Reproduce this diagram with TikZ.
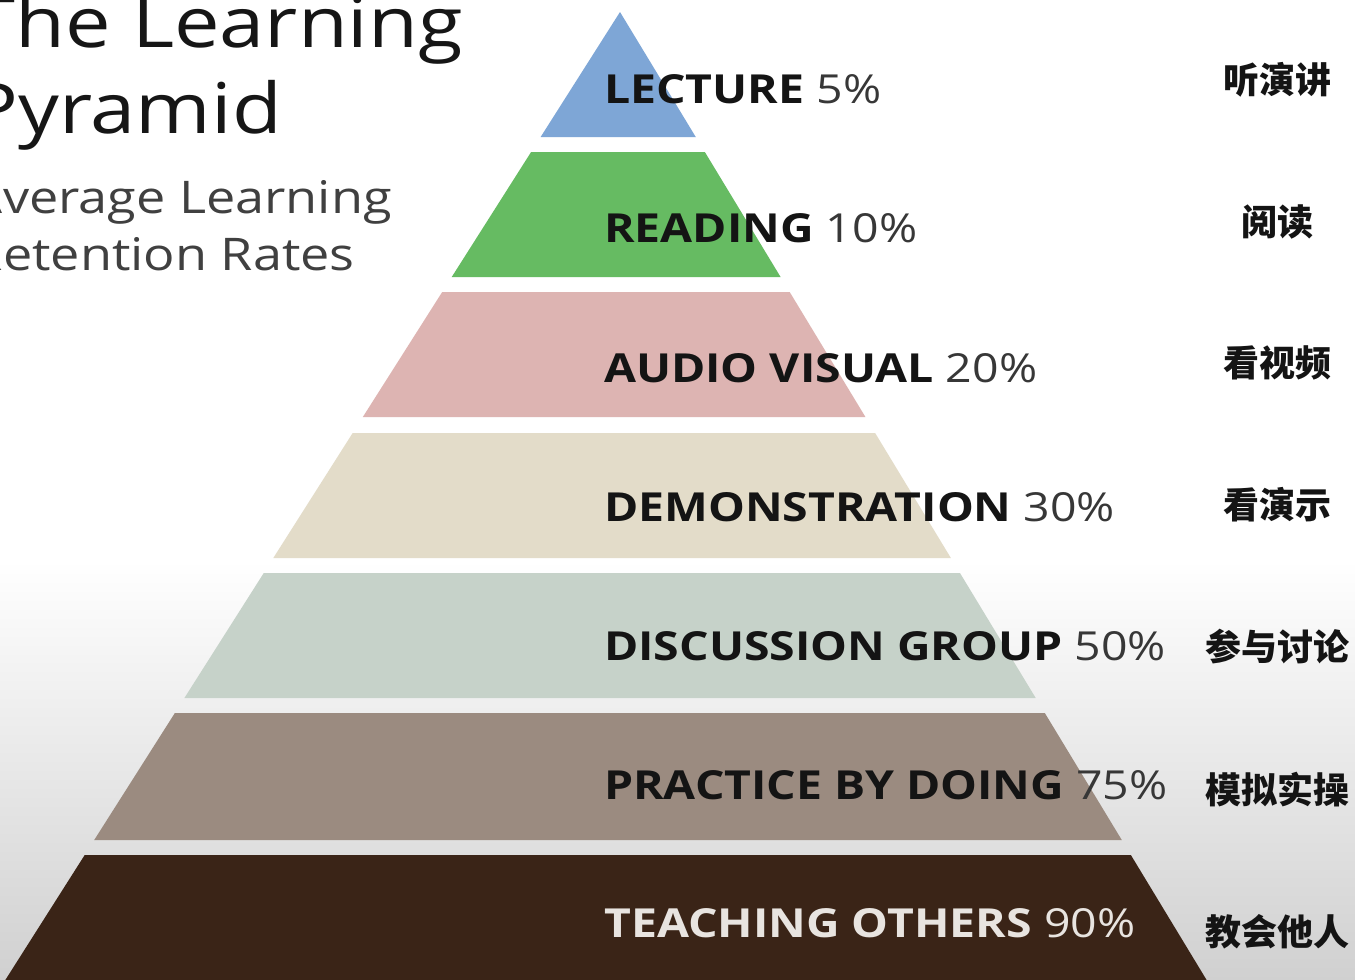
\documentclass[tikz,border=0pt]{standalone}
\usepackage{fontspec}
\setmainfont{Open Sans}[FakeStretch=1.16]
\newfontfamily\cjk{Noto Sans CJK SC}
\definecolor{bgbot}{RGB}{208,208,208}
\definecolor{c1}{RGB}{126,166,214}
\definecolor{c2}{RGB}{102,187,98}
\definecolor{c3}{RGB}{221,180,178}
\definecolor{c4}{RGB}{227,220,201}
\definecolor{c5}{RGB}{198,210,201}
\definecolor{c6}{RGB}{155,139,128}
\definecolor{c7}{RGB}{58,36,23}
\definecolor{labcol}{RGB}{20,20,20}
\definecolor{pctcol}{RGB}{55,55,55}
\definecolor{lightlab}{RGB}{232,228,224}
\definecolor{titlecol}{RGB}{22,22,22}
\definecolor{subcol}{RGB}{64,64,64}
\tikzset{
  lab/.style={anchor=base west, inner sep=0pt, text=labcol, font=\fontsize{40}{40}\selectfont},
  cn/.style={inner sep=0pt, text=labcol, font=\cjk\bfseries\fontsize{36}{36}\selectfont},
  ttl/.style={anchor=base east, inner sep=0pt, text=titlecol, font=\fontsize{70}{70}\selectfont},
  sub/.style={anchor=base east, inner sep=0pt, text=subcol, font=\fontsize{45}{45}\selectfont}
}
\begin{document}
\begin{tikzpicture}[x=1pt,y=-1pt]
\useasboundingbox (0,0) rectangle (1355,980);
\clip (0,0) rectangle (1355,980);
\fill[white] (0,0) rectangle (1355,980);
\shade[top color=white, bottom color=bgbot] (0,560) rectangle (1355,981);
\foreach \t/\b/\c in {12/137/c1, 152/277/c2, 292/417/c3, 433/558/c4, 573/698/c5, 713/840/c6, 855/990/c7}{
  \fill[\c] ({620-0.635*(\t-12)},\t) -- ({620+0.606*(\t-12)},\t) -- ({620+0.606*(\b-12)},\b) -- ({620-0.635*(\b-12)},\b) -- cycle;
}
\node[ttl] (t1) at (463,47) {The Learning};
\node[ttl] (t2) at (282,133) {Pyramid};
\node[sub] (s1) at (392,213) {Average Learning};
\node[sub] (s2) at (355,270) {Retention Rates};
\node[lab] (l1) at (604,103) {\textbf{LECTURE} {\color{pctcol}5\%}};
\node[lab] (l2) at (604,242) {\textbf{READING} {\color{pctcol}10\%}};
\node[lab] (l3) at (604,382) {\textbf{AUDIO VISUAL} {\color{pctcol}20\%}};
\node[lab] (l4) at (604,521) {\textbf{DEMONSTRATION} {\color{pctcol}30\%}};
\node[lab] (l5) at (604,660) {\textbf{DISCUSSION GROUP} {\color{pctcol}50\%}};
\node[lab] (l6) at (604,799) {\textbf{PRACTICE BY DOING} {\color{pctcol}75\%}};
\node[lab, text=lightlab] (l7) at (604,937) {\textbf{TEACHING OTHERS} 90\%};
\node[cn] (k1) at (1277,80) {听演讲};
\node[cn] (k2) at (1277,222) {阅读};
\node[cn] (k3) at (1277,363) {看视频};
\node[cn] (k4) at (1277,505) {看演示};
\node[cn] (k5) at (1277,647) {参与讨论};
\node[cn] (k6) at (1277,790) {模拟实操};
\node[cn] (k7) at (1277,932) {教会他人};
\end{tikzpicture}
\end{document}
